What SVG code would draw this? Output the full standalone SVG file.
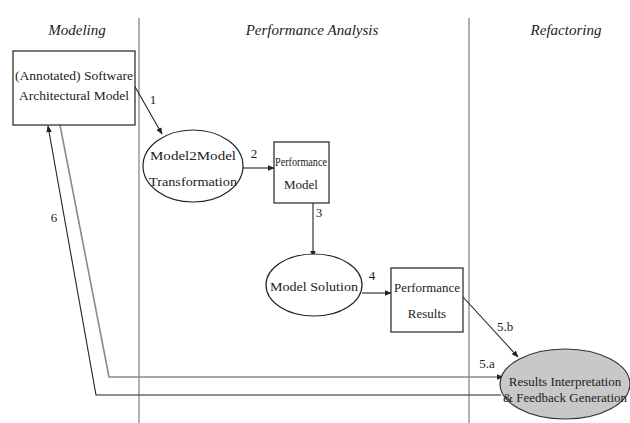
<svg xmlns="http://www.w3.org/2000/svg" width="630" height="423" viewBox="0 0 630 423">
<style>
text{font-family:"Liberation Serif","Times New Roman",serif;font-size:13px;fill:#222;text-anchor:middle}
.title{font-style:italic;font-size:15px}
.node{fill:#fff;stroke:#222;stroke-width:1.2}
.lane{stroke:#999;stroke-width:1.5}
.conn{fill:none;stroke:#222;stroke-width:1.1}
.gray{stroke:#8a8a8a;stroke-width:1.6}
</style>
<defs>
<marker id="ah" viewBox="0 0 10 10" refX="9" refY="5" markerWidth="7" markerHeight="7" orient="auto" markerUnits="userSpaceOnUse">
<path d="M0,1 L10,5 L0,9 z" fill="#222"/>
</marker>
</defs>
<rect width="630" height="423" fill="#fff"/>
<g id="lanes">
<line class="lane" x1="139" y1="18" x2="139" y2="423"/>
<line class="lane" x1="469" y1="18" x2="469" y2="423"/>
<text class="title" x="77" y="35">Modeling</text>
<text class="title" x="312" y="35">Performance Analysis</text>
<text class="title" x="566" y="35">Refactoring</text>
</g>
<g id="connectors">
<line class="conn" x1="134" y1="85" x2="162" y2="134" marker-end="url(#ah)"/>
<text x="153" y="104">1</text>
<line class="conn" x1="243" y1="168" x2="274" y2="168" marker-end="url(#ah)"/>
<text x="254" y="158">2</text>
<line class="conn" x1="313" y1="203" x2="313" y2="257" marker-end="url(#ah)"/>
<text x="319" y="217">3</text>
<line class="conn" x1="362" y1="293" x2="391" y2="293" marker-end="url(#ah)"/>
<text x="372" y="280">4</text>
<line class="conn" x1="463" y1="297" x2="518" y2="357" marker-end="url(#ah)"/>
<text x="505" y="331">5.b</text>
<polyline class="conn gray" points="60,125 109,377 503,377" marker-end="url(#ah)"/>
<text x="487" y="368">5.a</text>
<polyline class="conn" points="501,395 96,395 48,126" marker-end="url(#ah)"/>
<text x="54" y="222">6</text>
</g>
<g id="sam">
<rect class="node" x="13" y="51" width="122" height="74"/>
<text x="74" y="80" textLength="118" lengthAdjust="spacingAndGlyphs">(Annotated) Software</text>
<text x="74" y="100" textLength="110" lengthAdjust="spacingAndGlyphs">Architectural Model</text>
</g>
<g id="m2m">
<ellipse class="node" cx="193" cy="166" rx="50" ry="36"/>
<text x="193" y="160" textLength="86" lengthAdjust="spacingAndGlyphs">Model2Model</text>
<text x="193" y="186" textLength="88" lengthAdjust="spacingAndGlyphs">Transformation</text>
</g>
<g id="pm">
<rect class="node" x="274" y="142" width="55" height="61"/>
<text x="301" y="166" textLength="52" lengthAdjust="spacingAndGlyphs">Performance</text>
<text x="301" y="189">Model</text>
</g>
<g id="ms">
<ellipse class="node" cx="314" cy="285" rx="48" ry="31"/>
<text x="314" y="291" textLength="88" lengthAdjust="spacingAndGlyphs">Model Solution</text>
</g>
<g id="pr">
<rect class="node" x="391" y="268" width="72" height="64"/>
<text x="427" y="292" textLength="66" lengthAdjust="spacingAndGlyphs">Performance</text>
<text x="427" y="318">Results</text>
</g>
<g id="rifg">
<ellipse cx="565" cy="384" rx="65" ry="35" fill="#c8c8c8" stroke="#333" stroke-width="1.2"/>
<text x="565" y="386" font-size="11.5">Results Interpretation</text>
<text x="565" y="402" font-size="11">&amp; Feedback Generation</text>
</g>
</svg>
